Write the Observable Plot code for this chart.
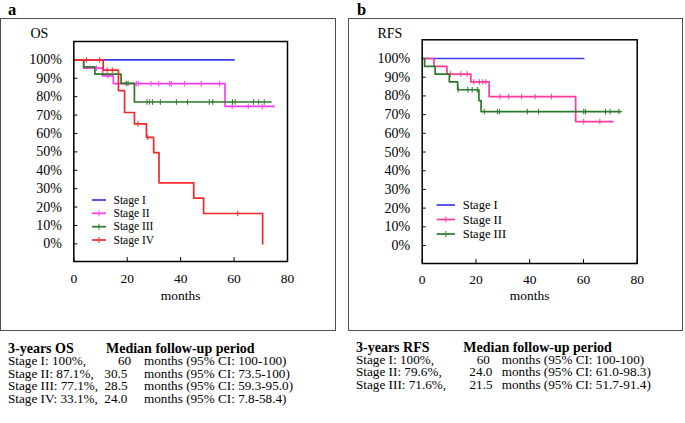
<!DOCTYPE html>
<html><head><meta charset="utf-8">
<script src="https://cdn.jsdelivr.net/npm/d3@7"></script>
<script src="https://cdn.jsdelivr.net/npm/@observablehq/plot@0.6"></script>
<style>
body{margin:0;background:#fff;}
#root{position:relative;width:685px;height:423px;overflow:hidden;background:#fff}
#root svg{position:absolute}
</style></head><body><div id="root"></div>
<script>
// ---------- data ----------
const stageNames = ["Stage I", "Stage II", "Stage III", "Stage IV"];
const xTicks = [0, 20, 40, 60, 80];
const yTicks = [0, 10, 20, 30, 40, 50, 60, 70, 80, 90, 100];

// OS (panel a): step times (months) and survival (%)
const osTime1 = [0, 60];
const osSurv1 = [100, 100];
const osCens1 = [];
const osTime2 = [0, 3.7, 10.8, 14.8, 56.6, 75];
const osSurv2 = [100, 95.5, 91.3, 87.1, 74.7, 74.7];
const osCens2 = [8.5, 12.8, 23.4, 24.1, 28.9, 31.8, 35.9, 36.5, 41.5, 47.7, 54.6, 59.3, 65.3, 70.5];
const osTime3 = [0, 3.7, 7.9, 17.7, 22.7, 73.8];
const osSurv3 = [100, 96.2, 92.3, 87.2, 77.1, 77.1];
const osCens3 = [19.6, 20.3, 27.4, 28.4, 29.5, 32.4, 38.4, 42.6, 50.7, 52, 59.4, 60.4, 67.3, 69.2, 71.3];
const osTime4 = [0, 11, 16.7, 19, 22.7, 27.2, 29.9, 31.9, 44.9, 48.6, 70.7];
const osSurv4 = [100, 94.4, 83.3, 71.4, 65.2, 57.9, 49.6, 33.1, 24.8, 16.5, 0];
const osCens4 = [4.7, 9.7, 12.5, 14.4, 24, 27.7, 61.4];

// RFS (panel b)
const rfsTime1 = [0, 60.1];
const rfsSurv1 = [100, 100];
const rfsCens1 = [];
const rfsTime2 = [0, 4.4, 9.2, 18.1, 24.9, 57.1, 71];
const rfsSurv2 = [100, 95.8, 91.7, 87.5, 79.6, 66.3, 66.3];
const rfsCens2 = [10.5, 14.4, 16.7, 19.2, 21.3, 22.5, 23.7, 29, 32.2, 37, 42, 48.1, 60.1, 66.1];
const rfsTime3 = [0, 0.9, 4.8, 10.1, 13.2, 21.1, 21.9, 74];
const rfsSurv3 = [100, 95.8, 91.7, 87.5, 83.3, 77.5, 71.6, 71.6];
const rfsCens3 = [13.4, 17, 18.6, 20.5, 23.1, 28, 28.8, 39.1, 43.3, 60.1, 60.8, 68.2, 69.9, 73.2];

// tables
const osHeader = ["3-years OS", "Median follow-up period"];
const os3yr = ["100%", "87.1%", "77.1%", "33.1%"];
const osMedian = ["60", "30.5", "28.5", "24.0"];
const osCI = ["100-100", "73.5-100", "59.3-95.0", "7.8-58.4"];
const rfsHeader = ["3-years RFS", "Median follow-up period"];
const rfs3yr = ["100%", "79.6%", "71.6%"];
const rfsMedian = ["60", "24.0", "21.5"];
const rfsCI = ["100-100", "61.0-98.3", "51.7-91.4"];

const osColors = ["#3a3af2", "#ff3ef2", "#2b7a2b", "#f5292b"];
const rfsColors = ["#3a3af2", "#ff3a9c", "#2b7a2b"];

// ---------- helpers ----------
const FONT = "'Liberation Serif','Times New Roman',serif";
const tickSymbol = {draw(ctx, size) { const r = Math.sqrt(size / Math.PI); ctx.moveTo(0, -r); ctx.lineTo(0, r); }};
function levelAt(times, surv, t) { let v = surv[0]; for (let i = 0; i < times.length; i++) if (times[i] <= t) v = surv[i]; return v; }

function kmPlot(series, colors, dims) {
  const marks = [];
  series.forEach((s, i) => {
    const pts = s.time.map((t, j) => ({t, s: s.surv[j]}));
    marks.push(Plot.line(pts, {x: "t", y: "s", curve: "step-after", stroke: colors[i], strokeWidth: 1.7}));
    const cen = s.cens.map(t => ({t, s: levelAt(s.time, s.surv, t)}));
    if (cen.length) marks.push(Plot.dot(cen, {x: "t", y: "s", symbol: tickSymbol, r: 2.8, fill: "none", stroke: colors[i], strokeWidth: 1}));
  });
  return Plot.plot({
    width: dims.width, height: dims.height,
    marginLeft: dims.ml, marginRight: dims.mr, marginTop: dims.mt, marginBottom: dims.mb,
    x: {domain: [0, 80]},
    y: {domain: [-9.6, 110]},
    style: {fontFamily: FONT, fontSize: "14px", background: "transparent", color: "#000", overflow: "visible"},
    marks: [
      Plot.axisY(yTicks, {tickFormat: d => d + "%", tickSize: -4, tickPadding: 16, fontSize: 14, label: null, stroke: "#000"}),
      Plot.axisX(xTicks, {tickSize: -4, tickPadding: dims.xpad, fontSize: 13.5, label: "months", labelAnchor: "center", labelArrow: "none", labelOffset: dims.lo, stroke: "#000"}),
      ...marks,
      Plot.frame({stroke: "#000", strokeWidth: 1.5})
    ]
  });
}

const root = document.getElementById("root");

const left = kmPlot(
  [{time: osTime1, surv: osSurv1, cens: osCens1}, {time: osTime2, surv: osSurv2, cens: osCens2},
   {time: osTime3, surv: osSurv3, cens: osCens3}, {time: osTime4, surv: osSurv4, cens: osCens4}],
  osColors, {width: 340, height: 310, ml: 73.3, mr: 53, mt: 41, mb: 49, xpad: 16, lo: 38});
left.style.left = "0px"; left.style.top = "0px";
root.appendChild(left);

const right = kmPlot(
  [{time: rfsTime1, surv: rfsSurv1, cens: rfsCens1}, {time: rfsTime2, surv: rfsSurv2, cens: rfsCens2},
   {time: rfsTime3, surv: rfsSurv3, cens: rfsCens3}],
  rfsColors, {width: 345, height: 310, ml: 81.7, mr: 48.3, mt: 39.3, mb: 47, xpad: 14.8, lo: 36});
right.style.left = "340px"; right.style.top = "0px";
root.appendChild(right);

// ---------- overlay: boxes, titles, legends, tables ----------
const NS = "http://www.w3.org/2000/svg";
const ov = document.createElementNS(NS, "svg");
ov.setAttribute("width", 685); ov.setAttribute("height", 423);
ov.style.left = "0px"; ov.style.top = "0px"; ov.style.pointerEvents = "none";
root.appendChild(ov);
function el(tag, attrs, text) {
  const e = document.createElementNS(NS, tag);
  for (const k in attrs) e.setAttribute(k, attrs[k]);
  if (text != null) e.textContent = text;
  ov.appendChild(e); return e;
}
function txt(x, y, s, size, bold) {
  return el("text", {x, y, "font-family": FONT, "font-size": size, "font-weight": bold ? "bold" : "normal", fill: "#000", "xml:space": "preserve"}, s);
}
el("rect", {x: 0.5, y: 18.5, width: 335, height: 312, fill: "none", stroke: "#4d4d4d", "stroke-width": 1});
el("rect", {x: 348.5, y: 18.5, width: 334, height: 312, fill: "none", stroke: "#4d4d4d", "stroke-width": 1});
txt(8, 15, "a", 16.5, true);
txt(357, 15, "b", 16.5, true);
txt(30.5, 38, "OS", 14);
txt(377.5, 38, "RFS", 14);

function legend(names, colors, x0, x1, xt, ys, size) {
  names.forEach((n, i) => {
    const y = ys[i];
    el("line", {x1: x0, x2: x1, y1: y, y2: y, stroke: colors[i], "stroke-width": 1.7});
    if (i > 0) el("line", {x1: (x0 + x1) / 2, x2: (x0 + x1) / 2, y1: y - 3, y2: y + 3, stroke: colors[i], "stroke-width": 1});
    txt(xt, y + size * 0.33, n, size);
  });
}
legend(stageNames, osColors, 92, 106, 113.5, [200, 213.3, 226.7, 240], 11.5);
legend(stageNames.slice(0, 3), rfsColors, 436.7, 455, 462.7, [205, 219.5, 234], 12.5);

function table(header, rate, med, ci, x0, xh2, xmed, xmon, y0, dy) {
  txt(x0, y0, header[0], 14, true);
  txt(xh2, y0, header[1], 14, true);
  rate.forEach((r, i) => {
    const y = y0 + dy * (i + 1);
    txt(x0, y, stageNames[i] + ": " + r + ",", 13.2);
    txt(xmed[i], y, med[i], 13.2);
    txt(xmon, y, "months (95% CI: " + ci[i] + ")", 13.2);
  });
}
table(osHeader, os3yr, osMedian, osCI, 8, 106, [118, 104.3, 104.5, 104.3], 144, 353, 12.4);
table(rfsHeader, rfs3yr, rfsMedian, rfsCI, 356, 463.3, [476.7, 469.3, 469.5], 501.7, 351.5, 12.4);
</script></body></html>
